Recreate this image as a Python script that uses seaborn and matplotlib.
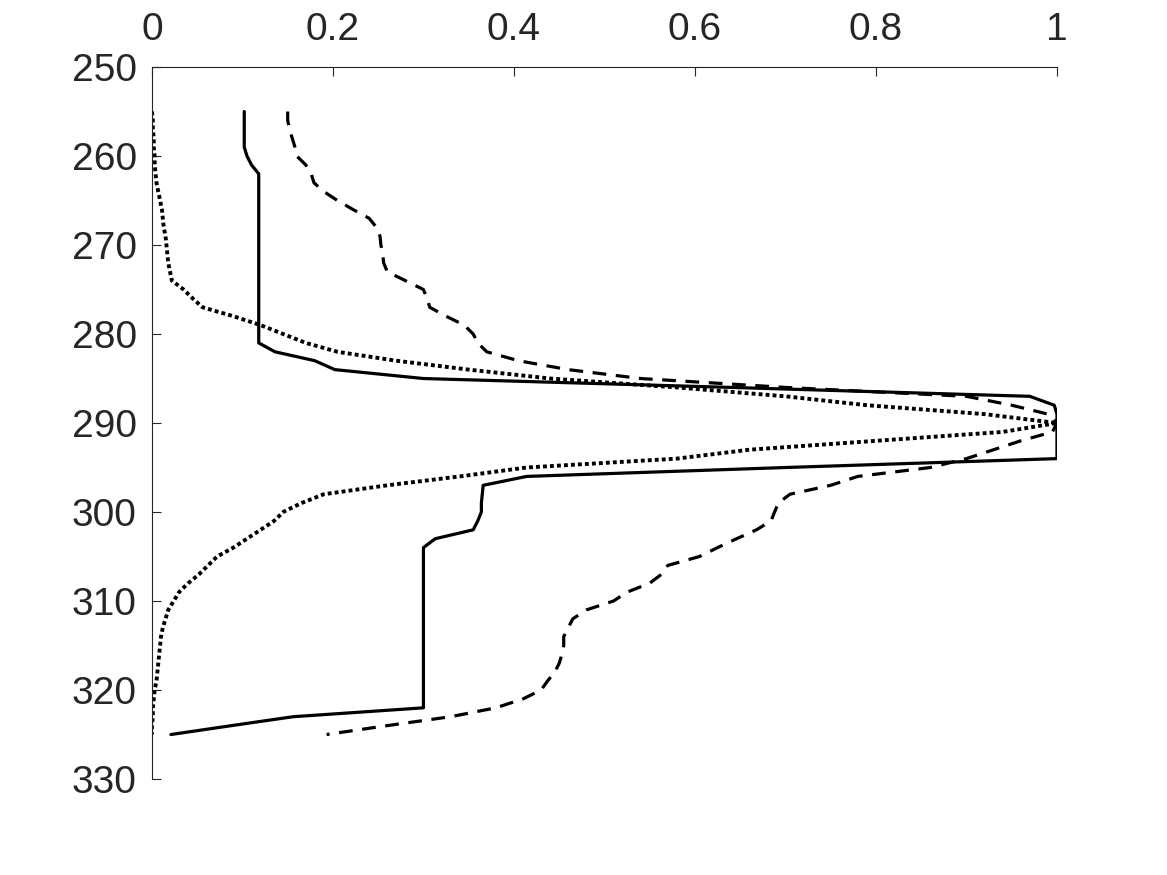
import matplotlib
matplotlib.use("Agg")
import matplotlib.pyplot as plt
import numpy as np
import pandas as pd
import seaborn as sns

# Depth levels (y axis, inverted) and normalised profiles (x axis)
depth = list(range(255, 326))

solid = [0.102, 0.102, 0.102, 0.102, 0.102, 0.105, 0.110, 0.118, 0.118, 0.118,   # 255-264
         0.118, 0.118, 0.118, 0.118, 0.118, 0.118, 0.118, 0.118, 0.118, 0.118,   # 265-274
         0.118, 0.118, 0.118, 0.118, 0.118, 0.118, 0.118, 0.136, 0.180, 0.202,   # 275-284
         0.300, 0.640, 0.970, 0.997, 1.000, 1.000, 1.000, 1.000, 1.000, 1.000,   # 285-294
         0.700, 0.414, 0.366, 0.365, 0.364, 0.364, 0.360, 0.355, 0.313, 0.300,   # 295-304
         0.300, 0.300, 0.300, 0.300, 0.300, 0.300, 0.300, 0.300, 0.300, 0.300,   # 305-314
         0.300, 0.300, 0.300, 0.300, 0.300, 0.300, 0.300, 0.300, 0.156, 0.088,   # 315-324
         0.021]                                                                   # 325

dashed = [0.150, 0.150, 0.152, 0.155, 0.158, 0.160, 0.170, 0.176, 0.179, 0.190,  # 255-264
          0.205, 0.222, 0.240, 0.248, 0.252, 0.253, 0.255, 0.256, 0.260, 0.280,  # 265-274
          0.300, 0.304, 0.307, 0.325, 0.345, 0.355, 0.360, 0.370, 0.405, 0.460,  # 275-284
          0.540, 0.700, 0.900, 0.950, 0.990, 1.000, 0.995, 0.960, 0.930, 0.900,  # 285-294
          0.860, 0.780, 0.750, 0.705, 0.692, 0.688, 0.684, 0.668, 0.646, 0.625,  # 295-304
          0.605, 0.570, 0.563, 0.550, 0.525, 0.510, 0.480, 0.465, 0.460, 0.455,  # 305-314
          0.455, 0.453, 0.450, 0.445, 0.437, 0.430, 0.410, 0.380, 0.330, 0.260,  # 315-324
          0.193]                                                                  # 325

dotted = [0.000, 0.001, 0.001, 0.002, 0.002, 0.003, 0.003, 0.004, 0.005, 0.007,  # 255-264
          0.009, 0.011, 0.012, 0.013, 0.015, 0.016, 0.017, 0.018, 0.020, 0.022,  # 265-274
          0.035, 0.045, 0.056, 0.090, 0.120, 0.145, 0.170, 0.205, 0.270, 0.350,  # 275-284
          0.440, 0.580, 0.700, 0.790, 0.920, 1.000, 0.940, 0.800, 0.660, 0.580,  # 285-294
          0.414, 0.340, 0.260, 0.190, 0.165, 0.145, 0.135, 0.120, 0.105, 0.090,  # 295-304
          0.072, 0.062, 0.052, 0.040, 0.030, 0.024, 0.018, 0.015, 0.012, 0.010,  # 305-314
          0.009, 0.008, 0.007, 0.006, 0.005, 0.003, 0.002, 0.001, 0.001, 0.000,  # 315-324
          0.000]                                                                  # 325

x_ticks = [0, 0.2, 0.4, 0.6, 0.8, 1]
x_labels = ["0", "0.2", "0.4", "0.6", "0.8", "1"]
y_ticks = list(range(250, 331, 10))

sns.set_theme(style="white")
plt.rcParams["font.family"] = ["Liberation Sans", "DejaVu Sans"]

fig = plt.figure(figsize=(11.67, 8.75), dpi=100)
ax = fig.add_axes([0.1302, 0.1097, 0.7755, 0.8137])

# (values, linestyle, linewidth) — MATLAB-like dotted squares are a bit heavier
series = [
    (solid, "-", 2.3),
    (dashed, (0, (4.3, 3.0)), 2.3),
    (dotted, (0, (1.0, 0.8)), 2.8),
]
for values, ls, lw in series:
    sns.lineplot(x=values, y=depth, orient="y", sort=False, estimator=None,
                 color="black", linewidth=lw, linestyle=ls, ax=ax)

ax.set_xlim(0, 1)
ax.set_ylim(330, 250)
ax.xaxis.tick_top()
ax.set_xticks(x_ticks, x_labels)
ax.set_yticks(y_ticks)
ax.set_xlabel("")
ax.set_ylabel("")

for side in ["right", "bottom"]:
    ax.spines[side].set_visible(False)
for side in ["left", "top"]:
    ax.spines[side].set_color("#262626")
    ax.spines[side].set_linewidth(0.8)

ax.tick_params(axis="x", direction="in", length=6.5, width=0.8, color="#262626",
               labelsize=28, labelcolor="#262626", pad=14, top=True, bottom=False)
ax.tick_params(axis="y", direction="in", length=6.5, width=0.8, color="#262626",
               labelsize=28, labelcolor="#262626", pad=11, left=True, right=False)

fig.savefig("out.png", dpi=100)
